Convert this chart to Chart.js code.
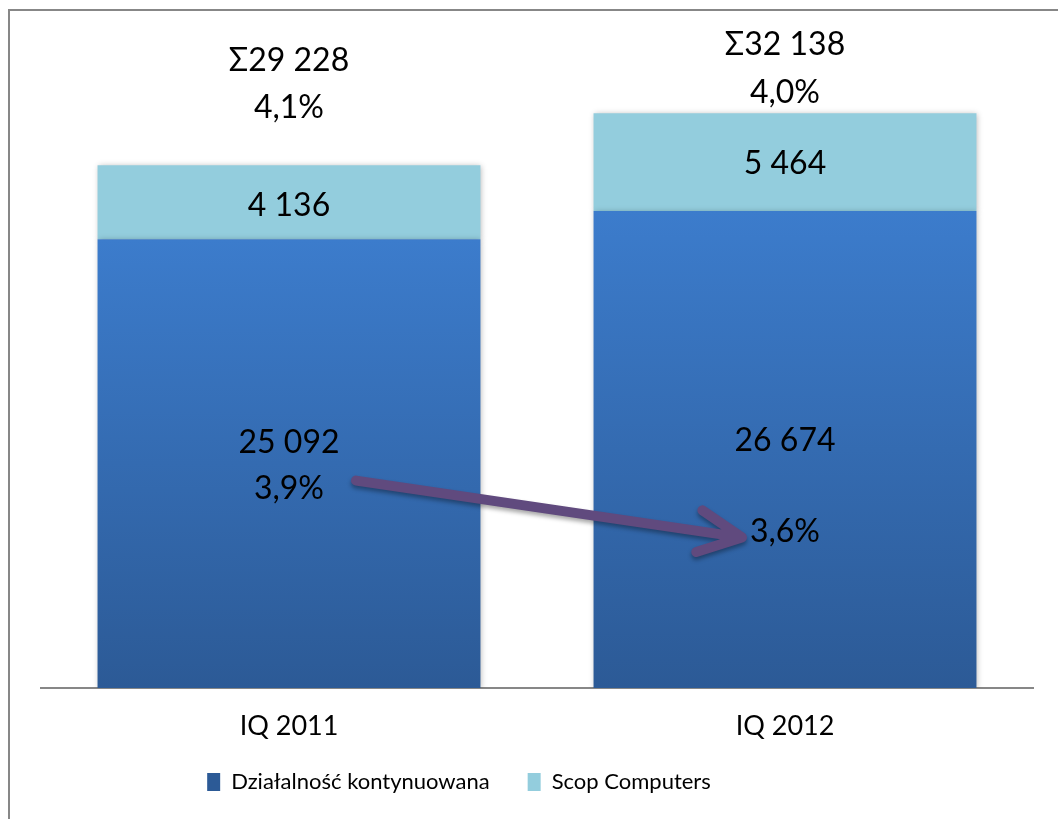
<!DOCTYPE html>
<html><head><meta charset="utf-8">
<script src="https://cdn.jsdelivr.net/npm/chart.js@4.4.1/dist/chart.umd.min.js"></script>
<style>
html,body{margin:0;padding:0;background:#fff;overflow:hidden}
#wrap{position:relative;width:1058px;height:819px}
#frame{position:absolute;left:8px;top:9px;right:-10px;bottom:-10px;border-left:2px solid #878787;border-top:2px solid #878787;pointer-events:none}
canvas{position:absolute;left:0;top:0}
</style></head>
<body><div id="wrap"><canvas id="c" width="1058" height="819"></canvas><div id="frame"></div></div>
<script>
// ---- data ----
const categories = ['IQ 2011', 'IQ 2012'];
const seriesNames = ['Działalność kontynuowana', 'Scop Computers'];
const continuingValues = [25092, 26674];
const scopValues = [4136, 5464];
const totalValues = [29228, 32138];
const totalShares = ['4,1%', '4,0%'];
const continuingShares = ['3,9%', '3,6%'];

// ---- layout (pixel offsets of the text lines, not data) ----
const totalLineOffsets = [[-105, -58], [-69, -21]];     // from top of stack
const scopLineOffsets = [3, 2];                         // from middle of upper segment
const continuingLineOffsets = [[-21, 25], [-9, 82]];   // from middle of lower segment

const FONT = 'Lato, "Open Sans", sans-serif';
const fmt = n => String(n).replace(/\B(?=(\d{3})+(?!\d))/g, ' ');

const darkGradient = (ctx) => {
  if (ctx.type !== 'data') return '#3468b2';
  const chart = ctx.chart;
  if (!chart.chartArea) return '#3468b2';
  const y = chart.scales.y;
  const top = y.getPixelForValue(ctx.raw);
  const bottom = y.getPixelForValue(0);
  if (!isFinite(top) || !isFinite(bottom)) return '#3468b2';
  const g = chart.ctx.createLinearGradient(0, top, 0, bottom);
  g.addColorStop(0, '#3c7ccc');
  g.addColorStop(1, '#2c5a96');
  return g;
};

const shadowPlugin = {
  id: 'barShadow',
  beforeDatasetsDraw(chart) {
    const c = chart.ctx;
    c.save();
    c.shadowColor = 'rgba(0,0,0,0.28)';
    c.shadowBlur = 6;
    c.shadowOffsetX = 1;
    c.shadowOffsetY = 1;
  },
  afterDatasetsDraw(chart) { chart.ctx.restore(); }
};

const legendShift = {
  id: 'legendShift',
  afterLayout(chart) {
    const lg = chart.legend;
    lg.left -= 78; lg.right -= 78;
    lg.top -= 16; lg.bottom -= 16;
  }
};

const labelPlugin = {
  id: 'valueLabels',
  afterDraw(chart) {
    const c = chart.ctx;
    const m0 = chart.getDatasetMeta(0).data;
    const m1 = chart.getDatasetMeta(1).data;
    c.save();
    c.fillStyle = '#000';
    c.font = '32px ' + FONT;
    c.textAlign = 'center';
    c.textBaseline = 'middle';
    const arrowPts = [];
    categories.forEach((cat, i) => {
      const d = m0[i], l = m1[i];
      const topY = l.y;
      c.fillText('Σ' + fmt(totalValues[i]), d.x, topY + totalLineOffsets[i][0]);
      c.fillText(totalShares[i], d.x, topY + totalLineOffsets[i][1]);
      c.fillText(fmt(scopValues[i]), l.x, (l.y + l.base) / 2 + scopLineOffsets[i]);
      const mid = (d.y + d.base) / 2;
      c.fillText(fmt(continuingValues[i]), d.x, mid + continuingLineOffsets[i][0]);
      c.fillText(continuingShares[i], d.x, mid + continuingLineOffsets[i][1]);
      arrowPts.push({ x: d.x, y: mid + continuingLineOffsets[i][1] });
    });
    const sx = arrowPts[0].x + 67, sy = arrowPts[0].y - 8;
    const ex = arrowPts[1].x - 43, ey = arrowPts[1].y + 6;
    const ang = Math.atan2(ey - sy, ex - sx);
    const armLen = 48, armAng = 26 * Math.PI / 180;
    c.shadowColor = 'rgba(0,0,0,0.35)';
    c.shadowBlur = 4;
    c.shadowOffsetY = 3;
    c.strokeStyle = '#604a7e';
    c.lineWidth = 10;
    c.lineCap = 'round';
    c.lineJoin = 'round';
    c.beginPath();
    c.moveTo(sx, sy);
    c.lineTo(ex - 4 * Math.cos(ang), ey - 4 * Math.sin(ang));
    c.moveTo(ex - armLen * Math.cos(ang - armAng), ey - armLen * Math.sin(ang - armAng));
    c.lineTo(ex, ey);
    c.lineTo(ex - armLen * Math.cos(ang + armAng), ey - armLen * Math.sin(ang + armAng));
    c.stroke();
    c.restore();
  }
};

new Chart(document.getElementById('c'), {
  type: 'bar',
  data: {
    labels: categories,
    datasets: [
      { label: seriesNames[0], data: continuingValues, backgroundColor: darkGradient,
        categoryPercentage: 1, barPercentage: 0.772, borderWidth: 0 },
      { label: seriesNames[1], data: scopValues, backgroundColor: '#93cddd',
        categoryPercentage: 1, barPercentage: 0.772, borderWidth: 0 }
    ]
  },
  options: {
    responsive: false,
    animation: false,
    devicePixelRatio: 1,
    layout: { padding: { left: 41, right: 25, top: 62, bottom: 0 } },
    scales: {
      x: {
        stacked: true,
        grid: { display: false, drawTicks: false },
        border: { display: true, color: '#878787', width: 2 },
        ticks: { color: '#000', font: { family: FONT, size: 27 }, padding: 22 },
        afterFit(scale) { scale.height = 61; }
      },
      y: {
        stacked: true, display: false, min: 0, max: 35000
      }
    },
    plugins: {
      legend: {
        position: 'bottom',
        labels: {
          color: '#000', font: { family: FONT, size: 22 },
          boxWidth: 13, boxHeight: 18, padding: 38
        }
      },
      tooltip: { enabled: false }
    }
  },
  plugins: [shadowPlugin, legendShift, labelPlugin]
});
</script>
</body></html>
